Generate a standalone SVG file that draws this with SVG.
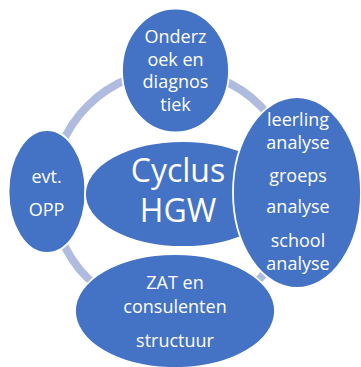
<svg xmlns="http://www.w3.org/2000/svg" width="361" height="367" viewBox="0 0 361 367">
<style>
.node{fill:#4472C4;stroke:#FFFFFF;stroke-width:1.8}
.lbl{fill:#FFFFFF;font-family:"Open Sans","Liberation Sans",sans-serif;font-size:18px;text-anchor:middle}
.big{font-size:32px}
.ring{fill:none;stroke:#AFBCE0;stroke-width:8}
</style>
<rect width="361" height="367" fill="#FFFFFF"/>
<g id="connectors">
<circle class="ring" cx="174" cy="192" r="122"/>
</g>
<g id="node-onderzoek">
<ellipse class="node" cx="175.5" cy="70.5" rx="53.5" ry="62"/>
<text class="lbl" x="175.5" y="43">Onderz</text>
<text class="lbl" x="175.5" y="65.5">oek en</text>
<text class="lbl" x="175.5" y="88">diagnos</text>
<text class="lbl" x="175.5" y="110.5">tiek</text>
</g>
<g id="node-opp">
<ellipse class="node" cx="47" cy="191.5" rx="38.5" ry="61.5"/>
<text class="lbl" x="46.5" y="183">evt.</text>
<text class="lbl" x="46.5" y="216">OPP</text>
</g>
<g id="node-cyclus">
<ellipse class="node" cx="183" cy="194" rx="98" ry="53"/>
<text class="lbl big" x="178" y="182">Cyclus</text>
<text class="lbl big" x="178" y="222">HGW</text>
</g>
<g id="node-analyse">
<ellipse class="node" cx="297" cy="192.5" rx="64" ry="95.5"/>
<text class="lbl" x="298" y="126">leerling</text>
<text class="lbl" x="298" y="148.5">analyse</text>
<text class="lbl" x="298" y="182">groeps</text>
<text class="lbl" x="298" y="213">analyse</text>
<text class="lbl" x="298" y="247">school</text>
<text class="lbl" x="298" y="270">analyse</text>
</g>
<g id="node-zat">
<ellipse class="node" cx="175" cy="311" rx="100" ry="57"/>
<text class="lbl" x="175" y="289">ZAT en</text>
<text class="lbl" x="175" y="313">consulenten</text>
<text class="lbl" x="175" y="347">structuur</text>
</g>
</svg>
